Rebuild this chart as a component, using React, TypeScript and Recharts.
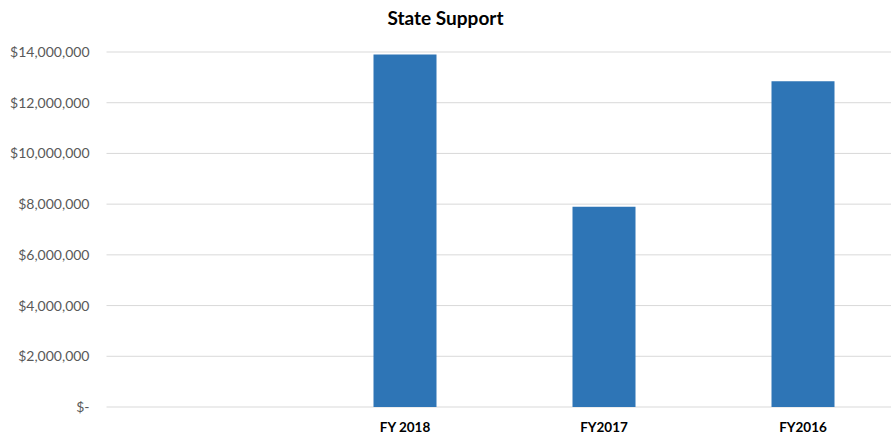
import { Bar, BarChart, CartesianGrid, XAxis, YAxis } from "recharts";

// First slot is blank in the source chart, so it stays as an empty category.
const CATEGORIES = ["", "FY 2018", "FY2017", "FY2016"];
const STATE_SUPPORT = [null, 13900000, 7900000, 12850000];
const Y_TICKS = [0, 2000000, 4000000, 6000000, 8000000, 10000000, 12000000, 14000000];

const data = CATEGORIES.map((name, i) => ({ name, value: STATE_SUPPORT[i] }));

const FONT = "Lato, 'Open Sans', sans-serif";

const fmtMoney = (v: number) => (v === 0 ? "$-" : "$" + v.toLocaleString("en-US"));

export default function App() {
  return (
    <div
      style={{
        position: "fixed",
        left: 0,
        top: 0,
        width: 891,
        height: 435,
        overflow: "hidden",
        background: "#fff",
        fontFamily: FONT,
      }}
    >
      <div
        style={{
          position: "absolute",
          top: 6,
          left: 0,
          width: 891,
          textAlign: "center",
          fontSize: 19,
          fontWeight: 700,
          color: "#000",
        }}
      >
        State Support
      </div>
      <BarChart
        width={910}
        height={435}
        data={data}
        margin={{ top: 52, right: 7.5, bottom: 0, left: 0 }}
      >
        <CartesianGrid vertical={false} stroke="#D9D9D9" />
        <XAxis
          dataKey="name"
          height={28}
          axisLine={false}
          tickLine={false}
          tickSize={0}
          tickMargin={15}
          tick={{ fontFamily: FONT, fontSize: 13.5, fontWeight: 700, fill: "#000" }}
        />
        <YAxis
          width={106.5}
          domain={[0, 14000000]}
          ticks={Y_TICKS}
          tickFormatter={fmtMoney}
          axisLine={false}
          tickLine={false}
          tickSize={0}
          tickMargin={17}
          tick={{ fontFamily: FONT, fontSize: 14, fill: "#595959" }}
        />
        <Bar dataKey="value" fill="#2E75B6" barSize={63} isAnimationActive={false} />
      </BarChart>
    </div>
  );
}
